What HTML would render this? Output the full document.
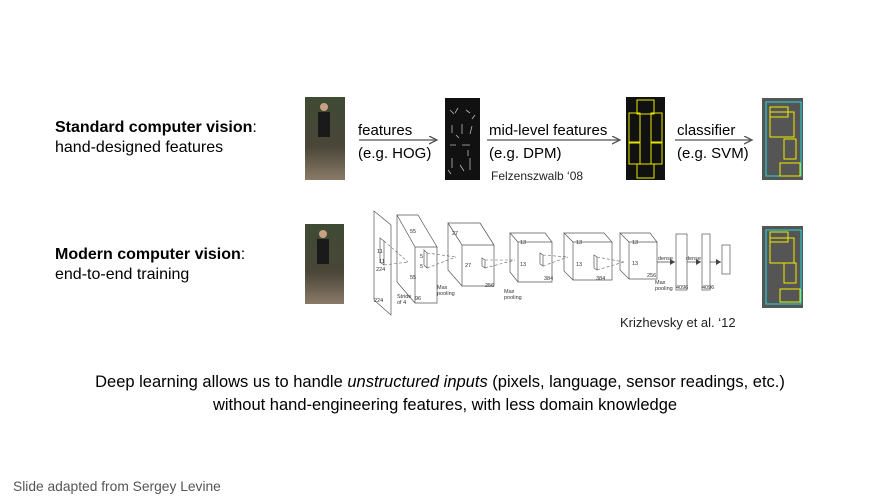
<!DOCTYPE html>
<html><head><style>
body{margin:0;background:#fff;}
svg{display:block;font-family:"Liberation Sans",sans-serif;}
</style></head><body>
<svg width="888" height="498" viewBox="0 0 888 498">
<defs>
<marker id="ah" markerWidth="10" markerHeight="10" refX="8" refY="4" orient="auto" markerUnits="userSpaceOnUse"><path d="M0,0 L8,4 L0,8" fill="none" stroke="#555" stroke-width="1.3"/></marker>
<marker id="sa" markerWidth="6" markerHeight="6" refX="5" refY="3" orient="auto" markerUnits="userSpaceOnUse"><path d="M0,0 L5,3 L0,6z" fill="#444"/></marker>
<linearGradient id="ph" x1="0" y1="0" x2="0" y2="1"><stop offset="0" stop-color="#3e4a33"/><stop offset="0.6" stop-color="#4a4638"/><stop offset="1" stop-color="#8a7a68"/></linearGradient>
</defs>
<text x="55" y="132" font-size="16" font-weight="bold" fill="#000">Standard computer vision<tspan font-weight="normal">:</tspan></text>
<text x="55" y="152" font-size="16" fill="#000">hand-designed features</text>
<text x="55" y="259" font-size="16" font-weight="bold" fill="#000">Modern computer vision<tspan font-weight="normal">:</tspan></text>
<text x="55" y="279" font-size="16" fill="#000">end-to-end training</text>

<rect x="305" y="97" width="40" height="83" fill="url(#ph)"/>
<rect x="318" y="112" width="12" height="25" fill="#1a1a1a"/><circle cx="324" cy="107" r="4" fill="#c9a084"/>
<rect x="305" y="224" width="39" height="80" fill="url(#ph)"/>
<rect x="317" y="239" width="12" height="25" fill="#1a1a1a"/><circle cx="323" cy="234" r="4" fill="#c9a084"/>

<rect x="445" y="98" width="35" height="82" fill="#111"/>
<g stroke="#bbb" stroke-width="0.8">
<path d="M450,110 l4,4 M458,108 l-3,5 M466,110 l4,3 M452,125 l0,8 M462,124 l0,10 M472,126 l-2,8 M450,145 l6,0 M462,145 l8,0 M452,158 l0,10 M470,158 l0,12 M460,165 l4,6 M448,170 l3,4 M475,115 l-3,4 M456,135 l3,3 M468,150 l0,6"/>
</g>
<rect x="626" y="97" width="39" height="83" fill="#111"/>
<g fill="none" stroke="#e6e600" stroke-width="1">
<rect x="637" y="100" width="17" height="14"/><rect x="629" y="113" width="11" height="30"/><rect x="651" y="113" width="11" height="30"/><rect x="629" y="142" width="11" height="22"/><rect x="651" y="142" width="11" height="22"/><rect x="637" y="164" width="17" height="14"/></g>
<g>
<rect x="762" y="98" width="41" height="82" fill="#555"/>
<rect x="766" y="102" width="35" height="74" fill="none" stroke="#2dd" stroke-width="1"/>
<g fill="none" stroke="#ee0" stroke-width="1"><rect x="770" y="107" width="18" height="10"/><rect x="770" y="112" width="24" height="25"/><rect x="784" y="139" width="12" height="20"/><rect x="780" y="163" width="20" height="13"/></g>
<rect x="762" y="226" width="41" height="82" fill="#555"/>
<rect x="766" y="230" width="35" height="74" fill="none" stroke="#2dd" stroke-width="1"/>
<g fill="none" stroke="#ee0" stroke-width="1"><rect x="770" y="232" width="18" height="10"/><rect x="770" y="238" width="24" height="25"/><rect x="784" y="263" width="12" height="20"/><rect x="780" y="289" width="20" height="13"/></g>
</g>

<g stroke="#555" stroke-width="1.3">
<line x1="359" y1="140" x2="437" y2="140" marker-end="url(#ah)"/>
<line x1="487" y1="140" x2="620" y2="140" marker-end="url(#ah)"/>
<line x1="675" y1="140" x2="752" y2="140" marker-end="url(#ah)"/>
</g>
<g font-size="15" fill="#000">
<text x="358" y="135">features</text><text x="358" y="158">(e.g. HOG)</text>
<text x="489" y="135">mid-level features</text><text x="489" y="158">(e.g. DPM)</text>
<text x="677" y="135">classifier</text><text x="677" y="158">(e.g. SVM)</text>
</g>
<text x="491" y="180" font-size="12" fill="#222">Felzenszwalb ‘08</text>

<g fill="none" stroke="#555" stroke-width="0.7">
<path d="M374,211 L391,225 L391,315 L374,300 Z"/>
<path d="M397,215 L415,247 L437,247 L418,215 Z M415,247 L415,303 L437,303 L437,247 M397,215 L397,282 L415,303"/>
<path d="M448,223 L462,245 L494,245 L480,223 Z M462,245 L462,286 L494,286 L494,245 L480,223 M448,223 L448,270 L462,286"/>
<path d="M510,233 L518,242 L552,242 L545,233 Z M518,242 L518,282 L552,282 L552,242 M510,233 L510,272 L518,282"/>
<path d="M564,233 L573,242 L612,242 L604,233 Z M573,242 L573,280 L612,280 L612,242 M564,233 L564,271 L573,280"/>
<path d="M620,233 L629,242 L657,242 L650,233 Z M629,242 L629,279 L657,279 L657,242 M620,233 L620,270 L629,279"/>
<rect x="676" y="234" width="11" height="56"/><rect x="702" y="234" width="8" height="56"/><rect x="722" y="245" width="8" height="29"/>
<path d="M380,238 L384,241 L384,265 L380,262 Z"/>
<path d="M424,250 L427,253 L427,268 L424,265 Z"/>
<path d="M482,258 L485,260 L485,268 L482,266 Z"/>
<path d="M540,253 L543,255 L543,266 L540,264 Z"/>
<path d="M594,255 L597,257 L597,270 L594,268 Z"/>
</g>
<g fill="none" stroke="#666" stroke-width="0.6" stroke-dasharray="3,2">
<path d="M384,241 L408,262 M384,265 L408,262 M427,253 L456,257 M427,268 L456,257 M485,260 L515,260 M485,268 L515,260 M543,255 L568,257 M543,266 L568,257 M597,257 L624,262 M597,270 L624,262"/>
</g>
<g stroke="#444" stroke-width="0.7">
<line x1="657" y1="262" x2="675" y2="262" marker-end="url(#sa)"/>
<line x1="687" y1="262" x2="701" y2="262" marker-end="url(#sa)"/>
<line x1="710" y1="262" x2="721" y2="262" marker-end="url(#sa)"/>
</g>
<g font-size="5.5" fill="#333">
<text x="377" y="253">11</text><text x="379" y="263">11</text><text x="376" y="271">224</text><text x="374" y="302">224</text>
<text x="410" y="233">55</text><text x="410" y="279">55</text><text x="415" y="300">96</text><text x="397" y="298">Stride</text><text x="397" y="304">of 4</text>
<text x="420" y="258">5</text><text x="420" y="268">5</text><text x="437" y="289">Max</text><text x="437" y="295">pooling</text>
<text x="452" y="235">27</text><text x="465" y="267">27</text><text x="485" y="287">256</text><text x="504" y="293">Max</text><text x="504" y="299">pooling</text>
<text x="520" y="244">13</text><text x="520" y="266">13</text><text x="544" y="280">384</text>
<text x="576" y="244">13</text><text x="576" y="266">13</text><text x="596" y="280">384</text>
<text x="632" y="244">13</text><text x="632" y="265">13</text><text x="647" y="277">256</text><text x="655" y="284">Max</text><text x="655" y="290">pooling</text>
<text x="658" y="260">dense</text><text x="686" y="260">dense</text>
<text x="676" y="289">4096</text><text x="702" y="289">4096</text>
</g>
<text x="620" y="327" font-size="13" fill="#222">Krizhevsky et al. ‘12</text>

<text x="440" y="387" font-size="16.5" fill="#000" text-anchor="middle">Deep learning allows us to handle <tspan font-style="italic">unstructured inputs</tspan> (pixels, language, sensor readings, etc.)</text>
<text x="445" y="410" font-size="16.5" fill="#000" text-anchor="middle">without hand-engineering features, with less domain knowledge</text>
<text x="13" y="491" font-size="13.8" fill="#555">Slide adapted from Sergey Levine</text>
</svg>
</body></html>
